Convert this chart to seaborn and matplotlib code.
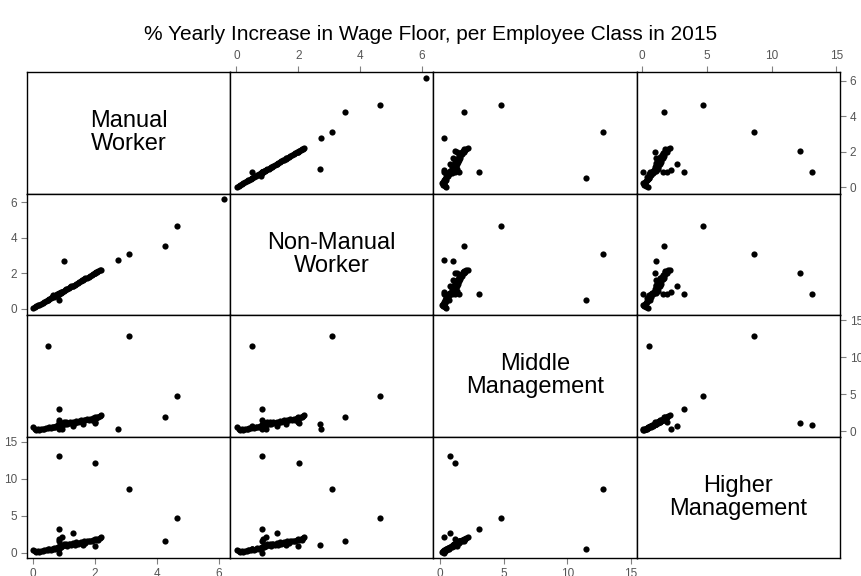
import numpy as np
import pandas as pd
import matplotlib
matplotlib.use('Agg')
import matplotlib.pyplot as plt
import seaborn as sns

# --- Data: % yearly increase per employee class (one value per agreement) ---
nan = np.nan
manual = [6.15, 4.65, 4.25, 3.10, 2.75, 1.00, 0.84, 2.02, 0.50, 0.84, 1.30, 0.95, 0.65, 0.85,
          0.02, 0.08, 0.12, 0.18, 0.22, 0.28, 0.32, 0.38, 0.42, 0.48, 0.52, 0.58, 0.62, 0.68,
          0.72, 0.76, 0.80, 0.82, 0.84, 0.84, 0.84, 0.86, 0.88, 0.90, 0.92, 0.96, 1.00, 1.04,
          1.08, 1.12, 1.16, 1.20, 1.25, 1.30, 1.35, 1.40, 1.45, 1.50, 1.55, 1.60, 1.65, 1.70,
          1.75, 1.80, 1.85, 1.90, 1.95, 2.00, 2.00, 2.04, 2.08, 2.12, 2.16, 2.20, 1.62]
non_manual = [6.15, 4.65, 3.50, 3.10, 2.75, 2.70, 0.84, 2.02, 0.50, 0.84, 1.30, 0.95, 0.78, 0.50,
              0.02, 0.08, 0.13, 0.18, 0.22, 0.28, 0.33, 0.38, 0.42, 0.48, 0.52, 0.58, 0.63, 0.68,
              0.72, 0.76, 0.80, 0.82, 0.84, 0.85, 0.84, 0.86, 0.88, 0.90, 0.92, 0.96, 1.00, 1.04,
              1.08, 1.12, 1.16, 1.20, 1.25, 1.30, 1.35, 1.40, 1.45, 1.50, 1.55, 1.60, 1.65, 1.70,
              1.75, 1.80, 1.85, 1.90, 1.95, 2.00, 2.00, 2.04, 2.08, 2.12, 2.16, 2.20, 1.62]
middle = [nan, 4.80, 1.90, 12.80, 0.30, 1.00, 0.78, 1.17, 11.50, 3.05, 0.75, 0.30, 0.60, 0.70,
          0.50, 0.35, 0.20, 0.30, 0.15, 0.25, 0.35, 0.30, 0.45, 0.40, 0.50, 0.45, 0.55, 0.60,
          0.50, 0.70, 0.65, 0.90, 1.50, 1.20, 0.30, 0.80, 1.00, 0.75, 1.10, 0.90, 1.30, 1.00,
          1.20, 0.95, 1.10, 1.25, 1.05, 1.30, 1.15, 1.40, 1.20, 1.35, 1.50, 1.30, 1.55, 1.45,
          1.60, 1.50, 1.70, 1.55, 1.75, 1.90, 1.30, 1.80, 1.95, 1.85, 2.05, 2.20, 1.00]
higher = [nan, 4.70, 1.65, 8.65, nan, 1.10, 13.10, 12.20, 0.50, 3.20, 2.70, 2.20, 0.50, 0.60,
          0.45, 0.30, 0.15, 0.25, 0.10, 0.20, 0.30, 0.35, 0.40, 0.45, 0.55, 0.40, 0.50, 0.65,
          0.55, 0.65, 0.70, 0.85, 1.60, 1.90, 0.05, 0.75, 1.05, 0.80, 1.00, 0.95, 1.25, 1.05,
          1.15, 1.00, 1.20, 1.20, 1.10, 1.35, 1.10, 1.45, 1.25, 1.30, 1.45, 1.35, 1.60, 1.40,
          1.65, 1.55, 1.65, 1.60, 1.80, 1.95, 1.00, 1.75, 1.90, 1.80, 2.00, 2.15, 1.05]

columns = ['manual', 'non_manual', 'middle', 'higher']
labels = ['Manual\nWorker', 'Non-Manual\nWorker', 'Middle\nManagement', 'Higher\nManagement']
ticks = [[0, 2, 4, 6], [0, 2, 4, 6], [0, 5, 10, 15], [0, 5, 10, 15]]
xlims = [(-0.18, 6.36), (-0.2, 6.38), (-0.52, 15.47), (-0.42, 15.28)]
ylims = [(-0.36, 6.48), (-0.36, 6.48), (-0.72, 15.7), (-0.68, 15.72)]

df = pd.DataFrame({'manual': manual, 'non_manual': non_manual,
                   'middle': middle, 'higher': higher})

sns.set_style('white')
plt.rcParams['font.family'] = ['Liberation Sans', 'DejaVu Sans']
plt.rcParams['text.color'] = 'black'

fig, axes = plt.subplots(4, 4, figsize=(8.62, 5.76), dpi=100, sharex='col', sharey='row')
fig.subplots_adjust(left=27 / 862, right=840 / 862, top=1 - 72 / 576, bottom=1 - 558 / 576,
                    wspace=0, hspace=0)

for i, yvar in enumerate(columns):
    for j, xvar in enumerate(columns):
        ax = axes[i, j]
        if i == j:
            ax.text(0.5, 0.5, labels[i], transform=ax.transAxes, ha='center', va='center',
                    fontsize=17, linespacing=1.05, color='black')
        else:
            sns.scatterplot(data=df, x=xvar, y=yvar, ax=ax, color='black', s=20,
                            linewidth=0, legend=False)
        ax.set_xlabel('')
        ax.set_ylabel('')
        for sp in ax.spines.values():
            sp.set_color('black')
            sp.set_linewidth(1)
        ax.tick_params(bottom=False, top=False, left=False, right=False,
                       labelbottom=False, labeltop=False, labelleft=False, labelright=False,
                       direction='out', length=4.5, width=0.8, color='#808080',
                       labelcolor='#555555', labelsize=8.5, pad=2.5)

# shared scales per column / row
for k in range(4):
    axes[0, k].set_xticks(ticks[k])
    axes[0, k].set_xlim(xlims[k])
    axes[k, 0].set_yticks(ticks[k])
    axes[k, 0].set_ylim(ylims[k])

# alternating axes like R's pairs()
for k in range(4):
    if k % 2 == 1:
        axes[0, k].tick_params(top=True, labeltop=True)
        axes[k, 0].tick_params(left=True, labelleft=True)
    else:
        axes[3, k].tick_params(bottom=True, labelbottom=True)
        axes[k, 3].tick_params(right=True, labelright=True)

fig.suptitle('% Yearly Increase in Wage Floor, per Employee Class in 2015',
             y=1 - 35 / 576, va='center', fontsize=15, color='black')

fig.savefig('out.png', dpi=100)
